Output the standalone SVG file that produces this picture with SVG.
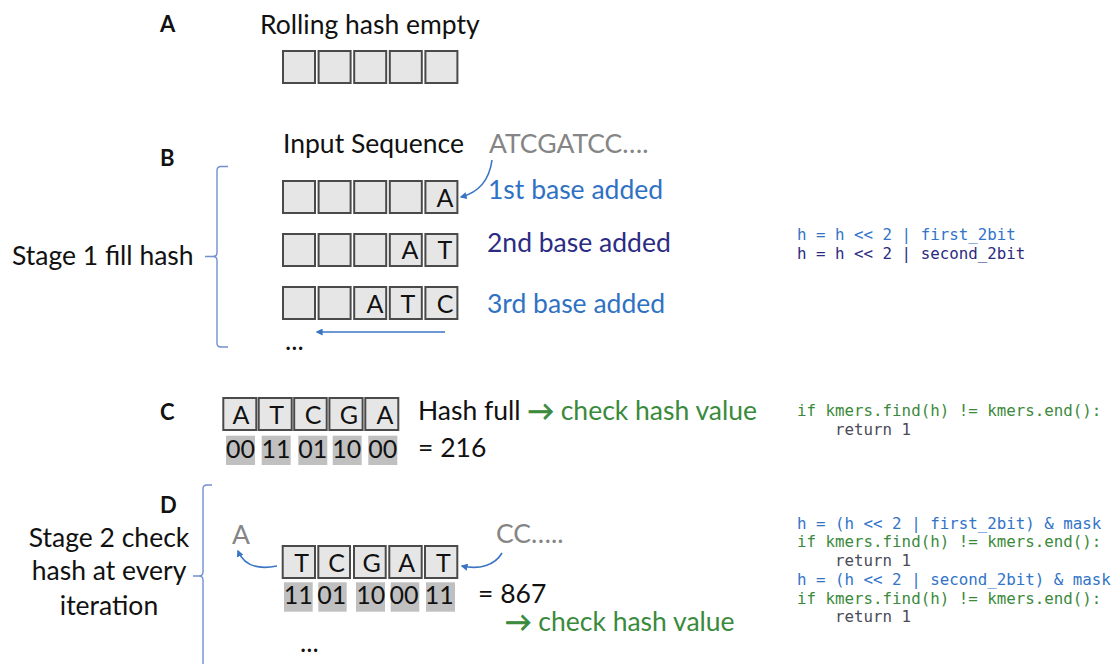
<svg xmlns="http://www.w3.org/2000/svg" width="1118" height="664" viewBox="0 0 1118 664">
<defs>
<style>
text{font-family:Lato,"Liberation Sans",sans-serif;fill:#111}
.lbl{font-weight:bold;font-size:22px}
.t{font-size:26.5px}
.cell{fill:#e6e6e6;stroke:#4a4a4a;stroke-width:2}
.bit{fill:#c0c0c0}
.ch{font-size:25px;text-anchor:middle}
.gray{fill:#858585}
.blue{fill:#2f72c4}
.navy{fill:#2b2b85}
.green{fill:#3a8a3c}
.ar{stroke:#3a8a3c;stroke-width:0.9}
.code{font-family:"DejaVu Sans Mono",monospace;font-size:15.8px}
.cb{fill:#3174c8}
.cn{fill:#2b2b80}
.cg{fill:#3b8a3b}
.cr{fill:#4a4a58}
.br{fill:none;stroke:#7090d0;stroke-width:1.4}
.arr{fill:none;stroke:#3a75c4;stroke-width:1.6}
</style>
<marker id="ah" viewBox="0 0 10 10" refX="8" refY="5" markerWidth="7" markerHeight="7" orient="auto" markerUnits="userSpaceOnUse">
<path d="M0,0 L10,5 L0,10 z" fill="#3a75c4"/>
</marker>
</defs>
<rect width="1118" height="664" fill="#fff"/>

<g id="sectionA">
<text class="lbl" x="160" y="32">A</text>
<text class="t" x="260" y="34">Rolling hash empty</text>
<rect class="cell" x="283" y="51" width="32" height="32"/>
<rect class="cell" x="318.6" y="51" width="32" height="32"/>
<rect class="cell" x="354.2" y="51" width="32" height="32"/>
<rect class="cell" x="389.8" y="51" width="32" height="32"/>
<rect class="cell" x="425.4" y="51" width="32" height="32"/>
</g>

<g id="sectionB">
<text class="lbl" x="160" y="166">B</text>
<text class="t" x="283" y="153">Input Sequence</text>
<text class="t gray" x="489" y="153">ATCGATCC….</text>
<text class="t" x="12" y="265">Stage 1 fill hash</text>
</g>

<g id="row1">
<rect class="cell" x="283" y="181" width="32" height="32"/>
<rect class="cell" x="318.6" y="181" width="32" height="32"/>
<rect class="cell" x="354.2" y="181" width="32" height="32"/>
<rect class="cell" x="389.8" y="181" width="32" height="32"/>
<rect class="cell" x="425.4" y="181" width="32" height="32"/>
<text class="ch" x="445" y="207">A</text>
<text class="t blue" x="488" y="199">1st base added</text>
</g>

<g id="row2">
<rect class="cell" x="283" y="234" width="32" height="32"/>
<rect class="cell" x="318.6" y="234" width="32" height="32"/>
<rect class="cell" x="354.2" y="234" width="32" height="32"/>
<rect class="cell" x="389.8" y="234" width="32" height="32"/>
<rect class="cell" x="425.4" y="234" width="32" height="32"/>
<text class="ch" x="410" y="259">A</text>
<text class="ch" x="445" y="259">T</text>
<text class="t navy" x="487" y="252">2nd base added</text>
</g>

<g id="row3">
<rect class="cell" x="283" y="287" width="32" height="32"/>
<rect class="cell" x="318.6" y="287" width="32" height="32"/>
<rect class="cell" x="354.2" y="287" width="32" height="32"/>
<rect class="cell" x="389.8" y="287" width="32" height="32"/>
<rect class="cell" x="425.4" y="287" width="32" height="32"/>
<text class="ch" x="375" y="312.5">A</text>
<text class="ch" x="408" y="312.5">T</text>
<text class="ch" x="445" y="312.5">C</text>
<text class="t blue" x="487" y="313">3rd base added</text>
<text class="t" x="285" y="350">...</text>
</g>

<g id="codeB">
<text class="code cb" x="797" y="240">h = h &lt;&lt; 2 | first_2bit</text>
<text class="code cn" x="797" y="259">h = h &lt;&lt; 2 | second_2bit</text>
</g>

<g id="sectionC">
<text class="lbl" x="160" y="420">C</text>
<rect class="cell" x="223.3" y="398" width="33" height="32"/>
<rect class="cell" x="258.7" y="398" width="33" height="32"/>
<rect class="cell" x="294.2" y="398" width="32.5" height="32"/>
<rect class="cell" x="329.4" y="398" width="33.2" height="32"/>
<rect class="cell" x="365.3" y="398" width="33" height="32"/>
<text class="ch" x="241" y="424">A</text>
<text class="ch" x="276.7" y="424">T</text>
<text class="ch" x="313" y="424">C</text>
<text class="ch" x="349" y="424">G</text>
<text class="ch" x="385" y="424">A</text>
<rect class="bit" x="226" y="435.7" width="29" height="29.3"/>
<rect class="bit" x="261.7" y="435.7" width="29" height="29.3"/>
<rect class="bit" x="298.3" y="435.7" width="29" height="29.3"/>
<rect class="bit" x="332.7" y="435.7" width="29" height="29.3"/>
<rect class="bit" x="368.3" y="435.7" width="29" height="29.3"/>
<text class="ch" x="240.5" y="457.5">00</text>
<text class="ch" x="276" y="457.5">11</text>
<text class="ch" x="312.7" y="457.5">01</text>
<text class="ch" x="346.7" y="457.5">10</text>
<text class="ch" x="382.7" y="457.5">00</text>
<text class="t" x="418" y="420">Hash full <tspan class="green ar">→</tspan><tspan class="green"> check hash value</tspan></text>
<text class="t" x="418" y="457">= 216</text>
</g>

<g id="codeC">
<text class="code cg" x="797" y="416">if kmers.find(h) != kmers.end():</text>
<text class="code cr" x="835" y="435">return 1</text>
</g>

<g id="sectionD">
<text class="lbl" x="160" y="513">D</text>
<text class="t" x="109" y="547" text-anchor="middle">Stage 2 check</text>
<text class="t" x="109" y="580" text-anchor="middle">hash at every</text>
<text class="t" x="109" y="615" text-anchor="middle">iteration</text>
<text class="t gray" x="232" y="544">A</text>
<text class="t gray" x="496" y="543">CC…..</text>
<rect class="cell" x="282.7" y="546" width="32.3" height="32"/>
<rect class="cell" x="318.3" y="546" width="31.7" height="32"/>
<rect class="cell" x="354" y="546" width="31.7" height="32"/>
<rect class="cell" x="389.3" y="546" width="32.4" height="32"/>
<rect class="cell" x="425" y="546" width="32.3" height="32"/>
<text class="ch" x="301.7" y="571.5">T</text>
<text class="ch" x="336.7" y="571.5">C</text>
<text class="ch" x="371.7" y="571.5">G</text>
<text class="ch" x="406.7" y="571.5">A</text>
<text class="ch" x="443.3" y="571.5">T</text>
<rect class="bit" x="284" y="582.3" width="28.7" height="29.4"/>
<rect class="bit" x="318.3" y="582.3" width="28.4" height="29.4"/>
<rect class="bit" x="356" y="582.3" width="29" height="29.4"/>
<rect class="bit" x="390.7" y="582.3" width="28.6" height="29.4"/>
<rect class="bit" x="426" y="582.3" width="29" height="29.4"/>
<text class="ch" x="298.3" y="604">11</text>
<text class="ch" x="331.7" y="604">01</text>
<text class="ch" x="370.7" y="604">10</text>
<text class="ch" x="404" y="604">00</text>
<text class="ch" x="439.3" y="604">11</text>
<text class="t" x="478" y="603">= 867</text>
<text class="t" x="505" y="631"><tspan class="green ar">→</tspan><tspan class="green"> check hash value</tspan></text>
<text class="t" x="300" y="652">...</text>
</g>

<g id="codeD">
<text class="code cb" x="797" y="528.5">h = (h &lt;&lt; 2 | first_2bit) &amp; mask</text>
<text class="code cg" x="797" y="547">if kmers.find(h) != kmers.end():</text>
<text class="code cr" x="835" y="565.5">return 1</text>
<text class="code cb" x="797" y="585">h = (h &lt;&lt; 2 | second_2bit) &amp; mask</text>
<text class="code cg" x="797" y="603.5">if kmers.find(h) != kmers.end():</text>
<text class="code cr" x="835" y="622">return 1</text>
</g>

<g id="connectors">
<path class="br" d="M228,166.5 L221,166.5 Q217,166.5 217,170.5 L217,252.5 Q217,256.5 213,256.5 L205,256.5 M213,256.5 Q217,256.5 217,260.5 L217,343 Q217,347 221,347 L228,347"/>
<path class="br" d="M212,485 L207,485 Q203,485 203,489 L203,572 Q203,576 199,576 L193,576 M199,576 Q203,576 203,580 L203,664"/>
<path class="arr" marker-end="url(#ah)" d="M492,160 Q488,190 461,197"/>
<path class="arr" marker-end="url(#ah)" d="M445,332 L317,332"/>
<path class="arr" marker-end="url(#ah)" d="M277,566 C262,569 245,568 238,551"/>
<path class="arr" marker-end="url(#ah)" d="M502,553 C495,565 480,570 462,566"/>
</g>
</svg>
